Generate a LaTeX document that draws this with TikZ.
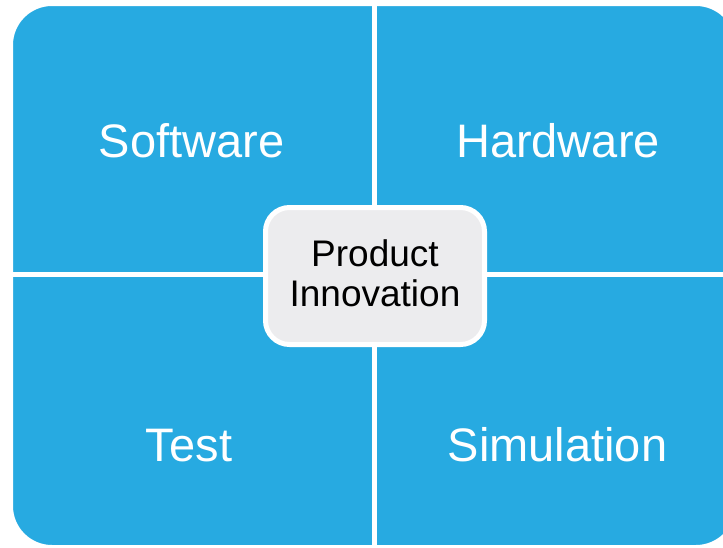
\documentclass[tikz,border=0pt]{standalone}
\usepackage{fontspec}
\setmainfont{Liberation Sans}
\definecolor{quadblue}{HTML}{27AAE1}
\definecolor{corefill}{HTML}{ECECEE}
\tikzset{
  quadlabel/.style={text=white, font=\fontsize{47}{50}\selectfont, anchor=base, inner sep=0pt},
  divider/.style={draw=white, line width=5pt},
  corebox/.style={draw=white, line width=5pt, fill=corefill, rounded corners=24pt,
    minimum width=219pt, minimum height=137pt, align=center, text=black,
    font=\fontsize{37}{40}\selectfont, inner sep=0pt, text depth=5pt}
}
\begin{document}
\begin{tikzpicture}[x=1pt,y=-1pt]
\useasboundingbox (0,0) rectangle (723,547);
\fill[white] (0,0) rectangle (723,547);
\begin{scope}
\clip (0,0) rectangle (723,547);
\filldraw[fill=quadblue, draw=white, line width=2pt, rounded corners=40pt] (12,5) rectangle (736,546);
\coordinate (vtop) at (374.5,0);
\coordinate (vbot) at (374.5,547);
\coordinate (hleft) at (12,274.5);
\coordinate (hright) at (740,274.5);
\draw[divider] (vtop) -- (vbot);
\draw[divider] (hleft) -- (hright);
\end{scope}
\node[quadlabel] (software) at (191.5,157) {Software};
\node[quadlabel] (hardware) at (558,157) {Hardware};
\node[quadlabel] (test) at (189,461) {Test};
\node[quadlabel] (simulation) at (557.5,461) {Simulation};
\node[corebox] (core) at (375,276) {Product\\Innovation};
\end{tikzpicture}
\end{document}
